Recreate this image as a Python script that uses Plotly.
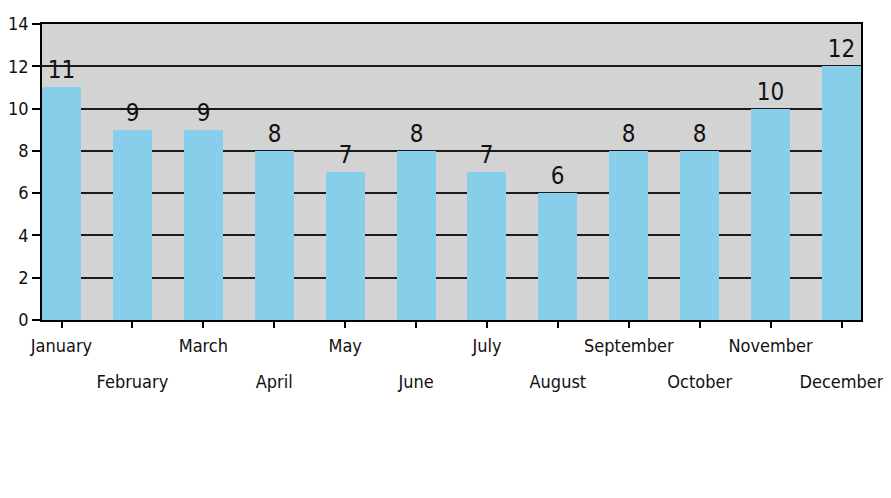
import plotly.graph_objects as go

months = ["January", "February", "March", "April", "May", "June",
          "July", "August", "September", "October", "November", "December"]
counts = [11, 9, 9, 8, 7, 8, 7, 6, 8, 8, 10, 12]
y_ticks = [0, 2, 4, 6, 8, 10, 12, 14]

FONT = "DejaVu Sans Condensed, Liberation Sans, sans-serif"
pos = list(range(len(months)))

fig = go.Figure(go.Bar(
    x=pos, y=counts, width=0.55,
    marker=dict(color="#87CEEB", line=dict(width=0)),
    text=[str(v) for v in counts], textposition="outside",
    textfont=dict(family=FONT, size=24, color="#111"),
    cliponaxis=False,
))
# a second axis only to drop every other month label one row lower
fig.add_trace(go.Bar(x=pos, y=[None] * 12, xaxis="x2", showlegend=False, hoverinfo="skip"))

# the page body has an 8px margin, so the figure is a bit smaller and margins shifted
fig.update_layout(
    width=883, height=482,
    margin=dict(l=34, r=30, t=16, b=170),
    paper_bgcolor="white", plot_bgcolor="#D3D3D3",
    showlegend=False, bargap=0,
    font=dict(family=FONT, size=18, color="#111"),
    xaxis=dict(
        range=[-0.275, 11.275], tickmode="array", tickvals=pos,
        ticktext=[m if i % 2 == 0 else "" for i, m in enumerate(months)],
        ticks="outside", ticklen=6, tickcolor="black", tickwidth=1.5,
        showgrid=False, zeroline=False, automargin=False,
        showline=True, linecolor="black", linewidth=1.5, mirror=True,
        ticklabelstandoff=3,
    ),
    xaxis2=dict(
        overlaying="x", matches="x", anchor="y", side="bottom",
        tickmode="array", tickvals=[p for p in pos if p % 2 == 1],
        ticktext=[m for i, m in enumerate(months) if i % 2 == 1],
        ticks="", showgrid=False, zeroline=False, showline=False,
        automargin=False, ticklabelstandoff=49,
    ),
    yaxis=dict(
        range=[0, 14], tickvals=y_ticks,
        ticks="outside", ticklen=8, tickcolor="black", tickwidth=1.5,
        showgrid=True, gridcolor="#1a1a1a", gridwidth=1.6,
        zeroline=False, automargin=False,
        showline=True, linecolor="black", linewidth=1.5, mirror=True,
        ticklabelstandoff=0,
    ),
)

fig.write_html("out.html")
